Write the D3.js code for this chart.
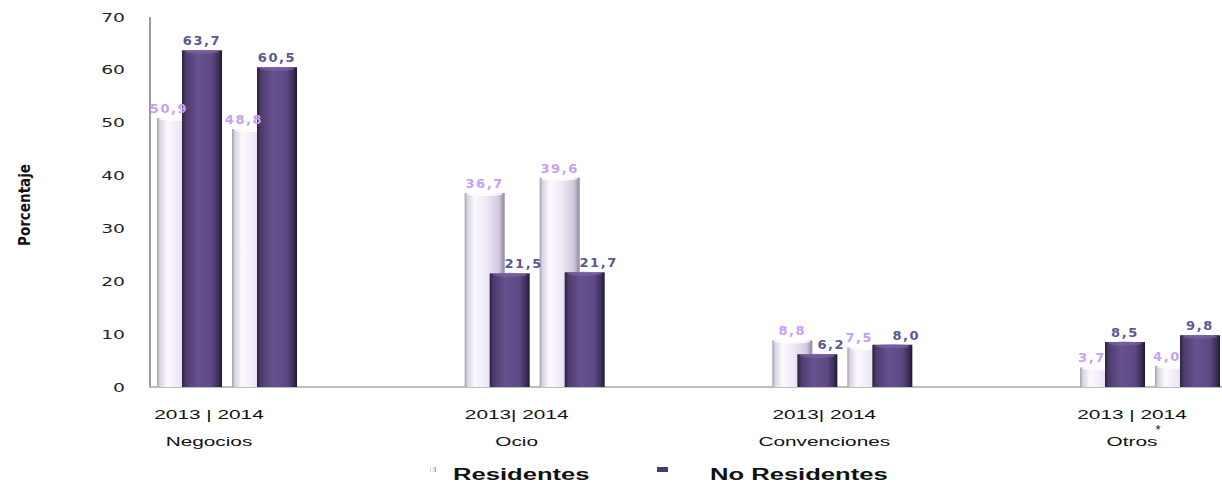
<!DOCTYPE html>
<html>
<head>
<meta charset="utf-8">
<script src="https://cdn.jsdelivr.net/npm/d3@7"></script>
<style>
  body { margin: 0; background: #fff; }
  svg { display: block; }
</style>
</head>
<body>
<svg id="chart" width="1222" height="487"></svg>
<script>
// data
var categories = ['Negocios', 'Ocio', 'Convenciones', 'Otros'];
var years = ['2013', '2014'];
var yearLabels = ['2013 | 2014', '2013| 2014', '2013| 2014', '2013 |  2014'];
var series = ['Residentes', 'No Residentes'];
// one value per category and year, in order Negocios 2013, Negocios 2014, Ocio 2013 ...
var residentes = [50.9, 48.8, 36.7, 39.6, 8.8, 7.5, 3.7, 4.0];
var noResidentes = [63.7, 60.5, 21.5, 21.7, 6.2, 8.0, 8.5, 9.8];
var yTicks = [0, 10, 20, 30, 40, 50, 60, 70];

var svg = d3.select('#chart');
var W = 1222, H = 487;
var STRETCH = 1.6;   // the original picture is squeezed wide

var y = d3.scaleLinear().domain([0, 70]).range([387, 17]);
var x0 = d3.scalePoint().domain(categories).range([227, 1150]);
var x1 = d3.scaleBand().domain(years).range([-75, 75]);
var xs = d3.scaleBand().domain(series).range([-32.5, 17.5]);
var barW = 40;

// gradients for the cylinder look
var defs = svg.append('defs');
function grad(id, stops) {
  var g = defs.append('linearGradient').attr('id', id)
    .attr('x1', '0').attr('x2', '1').attr('y1', '0').attr('y2', '0');
  stops.forEach(function(s) {
    g.append('stop').attr('offset', s[0]).attr('stop-color', s[1]);
  });
}
grad('gLight', [[0, '#a39daf'], [0.07, '#d9d4e0'], [0.25, '#fbf9fe'], [0.55, '#eee8f6'], [0.85, '#d2c9df'], [1, '#8e879a']]);
grad('gDark', [[0, '#2c2242'], [0.1, '#4d3b6e'], [0.4, '#67528f'], [0.75, '#5c4883'], [0.92, '#3a2d56'], [1, '#1d172d']]);

function stretch(sel, sx, x, yy) {
  sel.attr('transform', 'translate(' + x + ',' + yy + ') scale(' + sx + ',1)');
}

// rows for drawing
var rows = [];
categories.forEach(function(c, ci) {
  years.forEach(function(yr, yi) {
    var i = ci * 2 + yi;
    rows.push({ cat: c, year: yr, res: residentes[i], nores: noResidentes[i] });
  });
});
function pairX(d) { return x0(d.cat) + x1(d.year) + x1.bandwidth() / 2; }

// axes lines
svg.append('line').attr('x1', 150).attr('x2', 150).attr('y1', y(70)).attr('y2', y(0))
  .attr('stroke', '#9c9c9c').attr('stroke-width', 2);
svg.append('line').attr('x1', 149).attr('x2', W).attr('y1', y(0)).attr('y2', y(0))
  .attr('stroke', '#a8a8a8').attr('stroke-width', 1.5);

// y tick labels
svg.append('g').selectAll('text').data(yTicks).enter().append('text')
  .attr('text-anchor', 'end')
  .attr('dy', '0.36em')
  .style('font-family', 'DejaVu Sans, Verdana, sans-serif')
  .style('font-size', '12.5px')
  .attr('fill', '#222')
  .text(function(d) { return d; })
  .each(function(d) { stretch(d3.select(this), 1.5, 125, y(d)); });

// y title
svg.append('text')
  .attr('text-anchor', 'middle')
  .attr('transform', 'translate(30,205) rotate(-90)')
  .style('font-family', '"Liberation Sans Narrow", "DejaVu Sans Condensed", sans-serif')
  .style('font-weight', 'bold')
  .style('font-size', '15px')
  .attr('fill', '#111')
  .text('Porcentaje');

// bars: light (Residentes) first, dark (No Residentes) overlapping on top
var g = svg.append('g');
rows.forEach(function(d) {
  var px = pairX(d);
  g.append('rect')
    .attr('x', px + xs('Residentes')).attr('width', barW)
    .attr('y', y(d.res)).attr('height', y(0) - y(d.res))
    .attr('fill', 'url(#gLight)');
  g.append('ellipse')
    .attr('cx', px + xs('Residentes') + barW / 2).attr('cy', y(d.res) + 1)
    .attr('rx', barW / 2 - 2).attr('ry', 2)
    .attr('fill', '#ffffff').attr('opacity', 0.8);
  g.append('rect')
    .attr('x', px + xs('No Residentes')).attr('width', barW)
    .attr('y', y(d.nores)).attr('height', y(0) - y(d.nores))
    .attr('fill', 'url(#gDark)');
  g.append('ellipse')
    .attr('cx', px + xs('No Residentes') + barW / 2).attr('cy', y(d.nores) + 1.5)
    .attr('rx', barW / 2 - 3).attr('ry', 2)
    .attr('fill', '#7a64a4').attr('opacity', 0.7);
});

// value labels
function fmt(v) { return v.toFixed(1).replace('.', ','); }
var lab = svg.append('g')
  .style('font-family', 'DejaVu Sans, Verdana, sans-serif')
  .style('font-weight', 'bold')
  .style('font-size', '13px')
  .style('letter-spacing', '1.6px')
  .attr('text-anchor', 'middle');
rows.forEach(function(d) {
  var px = pairX(d);
  var lx = px + xs('Residentes') + barW / 2 + (d.nores > d.res ? -8 : 0);
  lab.append('text').attr('x', lx).attr('y', y(d.res) - 5)
    .attr('fill', '#c7a0f3').text(fmt(d.res));
  var dx = px + xs('No Residentes') + barW / 2 + (d.nores < d.res + 1 ? 14 : 0);
  lab.append('text').attr('x', dx).attr('y', y(d.nores) - 5)
    .attr('fill', '#5a5894').text(fmt(d.nores));
});

// category axis labels
var xl = svg.append('g')
  .style('font-family', '"Liberation Sans", Arial, sans-serif')
  .style('font-size', '13px')
  .attr('fill', '#111')
  .attr('text-anchor', 'middle');
categories.forEach(function(c, i) {
  var cx = x0(c) - 18;
  stretch(xl.append('text').text(yearLabels[i]), STRETCH, cx, 419);
  stretch(xl.append('text').text(c), STRETCH, cx, 446);
});
xl.append('text').text('*')
  .attr('x', x0('Otros') + 8).attr('y', 434)
  .style('font-size', '13px');

// legend
var leg = svg.append('g');
leg.append('rect').attr('x', 430).attr('y', 467).attr('width', 6).attr('height', 5)
  .attr('fill', 'url(#gLight)');
leg.append('rect').attr('x', 657).attr('y', 467).attr('width', 11).attr('height', 5)
  .attr('fill', '#4b3a6c');
var legX = [453, 710];
series.forEach(function(s, i) {
  var t = leg.append('text').text(s)
    .style('font-family', '"Liberation Sans", Arial, sans-serif')
    .style('font-weight', 'bold')
    .style('font-size', '16px')
    .attr('fill', '#111');
  stretch(t, 1.6, legX[i], 480);
});
</script>
</body>
</html>
